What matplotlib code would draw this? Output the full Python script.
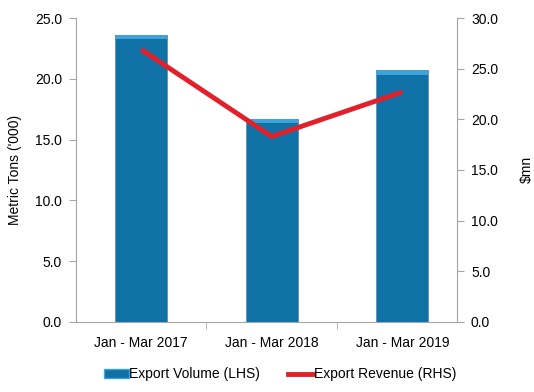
import numpy as np
import matplotlib.pyplot as plt
from matplotlib.lines import Line2D
from matplotlib.patches import Patch

periods = ["Jan - Mar 2017", "Jan - Mar 2018", "Jan - Mar 2019"]
volume = [23.6, 16.7, 20.7]      # '000 metric tons (LHS)
revenue = [26.9, 18.3, 22.7]     # $mn (RHS)

plt.rcParams['font.family'] = ['Liberation Sans', 'DejaVu Sans']
grey = '#a6a6a6'
fs = 10

fig = plt.figure(figsize=(5.34, 3.92), dpi=100)
ax = fig.add_axes([0.142, 0.179, 0.714, 0.775])
x = np.arange(len(periods))

# bars with a light bevel on top
ax.bar(x, volume, width=0.4, color='#1071a7', edgecolor='#5e8fae', linewidth=0.6, zorder=2)
ax.bar(x, [0.35] * len(x), bottom=np.array(volume) - 0.35, width=0.4,
       color='#3ea3d8', linewidth=0, zorder=3)

ax.set_ylim(0, 25)
ax.set_yticks(np.arange(0, 25.1, 5))
ax.set_yticklabels([f"{v:.1f}" for v in np.arange(0, 25.1, 5)])
ax.set_xlim(-0.5, 2.42)
ax.set_xticks(x)
ax.set_xticklabels(periods)
ax.set_xticks([0.5, 1.5], minor=True)
ax.tick_params(axis='x', which='major', length=0, pad=10, labelsize=fs)
ax.tick_params(axis='x', which='minor', length=5, color=grey)
ax.tick_params(axis='y', length=5, color=grey, labelsize=fs, pad=5)
ax.set_ylabel("Metric Tons ('000)", fontsize=fs)
ax.yaxis.set_label_coords(-0.142, 0.5)

for s in ['top', 'right']:
    ax.spines[s].set_visible(False)
for s in ['left', 'bottom']:
    ax.spines[s].set_color(grey)

ax2 = ax.twinx()
ax2.plot(x, revenue, color='#e3202a', lw=3.5, solid_capstyle='butt', zorder=4)
ax2.set_ylim(0, 30)
ax2.set_yticks(np.arange(0, 30.1, 5))
ax2.set_yticklabels([f"{v:.1f}" for v in np.arange(0, 30.1, 5)])
ax2.tick_params(axis='y', length=5, color=grey, labelsize=fs, pad=5)
ax2.set_ylabel("$mn", fontsize=fs)
ax2.yaxis.set_label_coords(1.165, 0.5)
for s in ['top', 'left', 'bottom']:
    ax2.spines[s].set_visible(False)
ax2.spines['right'].set_color(grey)

handles = [Patch(facecolor='#1071a7', edgecolor='#3ea3d8', label='Export Volume (LHS)'),
           Line2D([0], [0], color='#e3202a', lw=3.5, label='Export Revenue (RHS)')]
fig.legend(handles=handles, loc='lower center', bbox_to_anchor=(0.524, -0.005), ncol=2,
           frameon=False, fontsize=fs, handlelength=1.8, handleheight=0.6,
           handletextpad=0.05, columnspacing=2.0)

fig.savefig('out.png', dpi=100)
